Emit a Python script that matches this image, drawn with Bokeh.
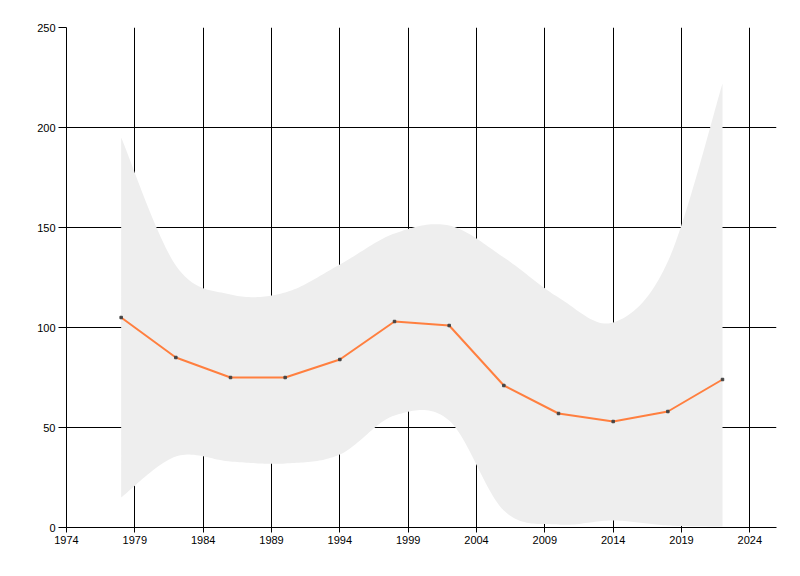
from bokeh.plotting import figure
from bokeh.models import Range1d, FixedTicker
from bokeh.embed import file_html
from bokeh.resources import INLINE

# data
years = [1978, 1982, 1986, 1990, 1994, 1998, 2002, 2006, 2010, 2014, 2018, 2022]
values = [105, 85, 75, 75, 84, 103, 101, 71, 57, 53, 58, 74]
band_high = [195, 131, 116.5, 117.5, 131.5, 147, 151, 135, 115, 102.5, 133, 222]
band_low = [15, 35.5, 33, 32, 36.5, 56, 53.5, 8.5, 1.5, 3.5, 1, 0.5]

x_ticks = [1974, 1979, 1984, 1989, 1994, 1999, 2004, 2009, 2014, 2019, 2024]
y_ticks = [0, 50, 100, 150, 200, 250]


def smooth(xs, ys, steps=24):
    # catmull-rom curve through the points, only for drawing the band edge
    pts = list(zip(xs, ys))
    pts = [pts[0]] + pts + [pts[-1]]
    out_x, out_y = [], []
    for i in range(1, len(pts) - 2):
        p0, p1, p2, p3 = pts[i - 1], pts[i], pts[i + 1], pts[i + 2]
        for k in range(steps):
            t = k / steps
            t2, t3 = t * t, t * t * t
            cx = []
            for j in range(2):
                cx.append(0.5 * (2 * p1[j] + (-p0[j] + p2[j]) * t
                                 + (2 * p0[j] - 5 * p1[j] + 4 * p2[j] - p3[j]) * t2
                                 + (-p0[j] + 3 * p1[j] - 3 * p2[j] + p3[j]) * t3))
            out_x.append(cx[0])
            out_y.append(cx[1])
    out_x.append(pts[-2][0])
    out_y.append(pts[-2][1])
    return out_x, out_y


p = figure(width=784, height=560, output_backend="svg", toolbar_location=None,
           x_range=Range1d(1974, 2025.95), y_range=Range1d(0, 250),
           min_border_left=66, min_border_right=8, min_border_top=27,
           min_border_bottom=33)
p.outline_line_color = None
p.background_fill_color = "white"
p.border_fill_color = "white"

sx, hi = smooth(years, band_high)
_, lo = smooth(years, band_low)
p.varea(x=sx, y1=lo, y2=hi, fill_color="#EEEEEE")

p.line(years, values, color="#FF7F3F", line_width=2)
p.scatter(years, values, marker="square", size=2.5, color="#444444")

p.xaxis.ticker = FixedTicker(ticks=x_ticks)
p.yaxis.ticker = FixedTicker(ticks=y_ticks)
p.xgrid.ticker = FixedTicker(ticks=x_ticks)
p.ygrid.ticker = FixedTicker(ticks=y_ticks)

for grid in (p.xgrid, p.ygrid):
    grid.grid_line_color = "black"
    grid.grid_line_alpha = 1.0
    grid.grid_line_width = 1

for axis in (p.xaxis, p.yaxis):
    axis.axis_line_color = "black"
    axis.major_tick_line_color = "black"
    axis.minor_tick_line_color = None
    axis.major_tick_in = 0
    axis.major_label_text_font = "Liberation Sans"
    axis.major_label_text_font_size = "11px"
    axis.major_label_text_color = "black"
    axis.major_label_standoff = 3

p.xaxis.major_tick_out = 5
p.yaxis.major_tick_out = 8

open("out.html", "w").write(file_html(p, INLINE))
